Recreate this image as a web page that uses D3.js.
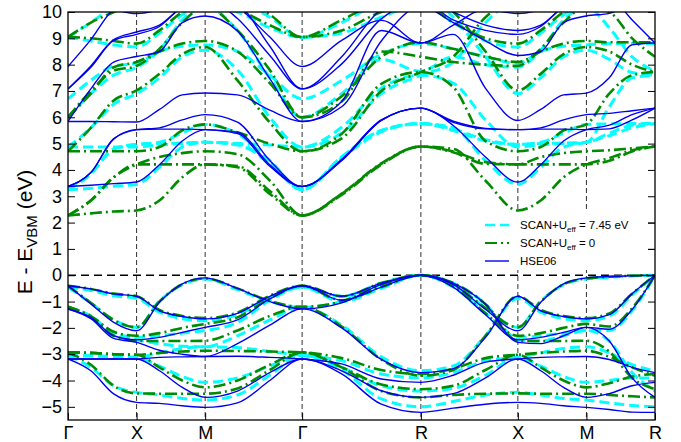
<!DOCTYPE html>
<html><head><meta charset="utf-8">
<script src="https://cdn.jsdelivr.net/npm/d3@7"></script>
<style>
body{margin:0;background:#fff}
svg{display:block}
text{font-family:"Liberation Sans",Arial,Helvetica,sans-serif}
</style>
</head><body>
<svg id="c" width="681" height="442"></svg>
<script>
// ---------- data ----------
const kLabels = ["Γ","X","M","Γ","R","X","M","R"];
const kNodes  = [0, 0.5, 1.0, 1.7071, 2.5731, 3.2802, 3.7802, 4.2802];
const kGrid   = [0,0.1667,0.3333,0.5, 0.6667,0.8333,1.0, 1.2357,1.4714,1.7071,
                 1.9958,2.2845,2.5731, 2.8088,3.0445,3.2802, 3.4469,3.6135,3.7802,
                 3.9469,4.1135,4.2802];
const yTicks  = [-5,-4,-3,-2,-1,0,1,2,3,4,5,6,7,8,9,10];
const legendLabels = ["SCAN+U_eff = 7.45 eV","SCAN+U_eff = 0","HSE06"];

// HSE06 bands (eV), values at kGrid
const hseCond = [
 [3.37,3.42,3.48,3.54, 4.2,5.1,5.53, 5.43,4.2,3.37, 4.36,5.88,6.35, 5.69,4.49,3.54, 4.2,5.1,5.53, 5.7,6.1,6.35],
 [3.37,3.9,5.18,5.53, 5.55,5.55,5.53, 5.38,4.14,3.37, 4.36,5.88,6.35, 5.81,5.56,5.53, 5.55,5.55,5.53, 5.56,5.9,6.35],
 [3.37,3.9,5.18,5.53, 5.6,5.9,6.1, 5.82,4.36,3.37, 4.4,5.9,6.35, 5.85,5.58,5.53, 5.6,5.9,6.1, 6.15,6.25,6.35],
 [5.84,5.84,5.83,5.82, 6.3,6.85,6.92, 6.85,6.27,5.84, 6.6,9.3,8.82, 9.15,7.1,5.88, 6.3,6.85,6.92, 7.5,8.75,8.82],
 [5.84,7.08,8.1,8.31, 8.5,9.6,9.85, 9.28,7.47,5.84, 6.4,8.9,10.2, 9.6,8.9,8.35, 8.5,9.6,9.85, 9.95,10.3,10.6],
 [7.08,7.9,8.92,9.15, 9.45,10.2,10.5, 9.75,8.35,7.08, 8.03,9.74,10.4, 9.7,9.3,9.15, 9.45,10.2,10.5, 10.8,10.8,10.8],
 [7.08,7.95,8.95,9.24, 9.5,10.2,10.6, 10.3,8.7,7.08, 8.3,10.1,10.6, 10.0,9.5,9.3, 9.5,10.2,10.6, 10.8,10.8,10.8],
 [7.93,8.95,10.1,10.4, 10.8,10.8,10.8, 10.2,9.05,7.93, 8.92,9.68,8.82, 9.5,10.1,9.94, 10.1,10.5,10.8, 10.6,9.7,8.82],
 [10.5,10.4,10.1,9.94, 10.1,10.5,10.8, 10.8,10.8,10.8, 10.8,10.8,10.8, 10.8,10.8,10.8, 10.8,10.8,10.8, 10.8,10.8,10.8]
];
const hseVal = [
 [-0.40,-0.52,-0.71,-0.80, -1.35,-1.57,-1.66, -1.45,-0.8,-0.40, -0.95,-0.45,0, -0.35,-1.3,-2.11, -1.03,-0.33,-0.10, -0.05,-0.02,0],
 [-0.40,-1.09,-1.79,-2.11, -1.03,-0.33,-0.10, -0.5,-1.0,-1.28, -1.05,-0.35,0, -0.45,-1.5,-2.45, -2.36,-2.17,-1.98, -2.05,-1.3,0],
 [-1.28,-1.6,-2.3,-2.45, -2.36,-2.17,-1.98, -1.7,-0.9,-0.40, -0.8,-0.3,0, -0.3,-1.1,-2.55, -2.6,-2.3,-1.98, -2.5,-3.9,-4.64],
 [-1.28,-1.65,-2.4,-2.55, -2.85,-3.0,-3.09, -2.6,-1.9,-1.28, -2.0,-3.2,-3.7, -3.55,-2.36,-0.80, -1.35,-1.57,-1.66, -1.5,-0.7,0],
 [-3.18,-3.18,-3.18,-3.18, -3.12,-3.1,-3.09, -3.08,-3.12,-3.18, -3.37,-3.94,-4.07, -3.8,-3.3,-3.18, -3.12,-3.1,-3.09, -3.2,-3.5,-3.7],
 [-3.18,-3.18,-3.18,-3.18, -3.63,-4.26,-4.64, -4.4,-3.7,-3.18, -3.63,-4.39,-4.64, -4.5,-3.9,-3.18, -3.63,-4.26,-4.64, -4.5,-4.2,-4.07],
 [-3.18,-3.63,-4.51,-4.83, -4.87,-4.96,-5.02, -4.85,-4.0,-3.18, -3.75,-4.9,-5.21, -5.05,-4.9,-4.83, -4.87,-4.96,-5.02, -5.1,-5.2,-5.21]
];

// SCAN+U_eff = 7.45 eV bands
const scanUCond = [
 [3.25,3.3,3.38,3.45, 4.1,4.87,5.05, 5.0,4.23,3.25, 4.49,5.5,5.76, 5.6,4.35,3.45, 4.1,4.87,5.05, 5.3,5.6,5.76],
 [3.25,3.85,4.8,4.97, 5.0,5.02,5.05, 4.95,4.3,3.25, 4.45,5.45,5.76, 5.5,5.1,4.97, 5.0,5.02,5.05, 5.4,5.7,5.76],
 [3.25,3.85,4.8,4.97, 5.05,5.4,5.73, 5.37,4.36,3.25, 4.5,5.5,5.76, 5.55,5.15,4.97, 5.05,5.4,5.73, 5.75,5.76,5.76],
 [4.87,4.87,4.87,4.87, 4.95,5.0,5.05, 5.0,4.95,4.87, 5.62,7.1,7.6, 7.3,5.9,4.87, 4.95,5.0,5.05, 6.4,7.5,7.6],
 [4.87,5.6,6.5,6.9, 7.5,8.3,8.55, 7.8,6.0,4.87, 5.4,6.9,7.6, 8.1,9.6,10.5, 10.6,10.8,10.8, 10.6,10.4,10.3],
 [6.0,6.9,7.6,7.9, 8.55,9.7,10.2, 9.3,7.5,6.0, 6.9,8.2,7.75, 8.3,8.0,7.9, 8.55,9.7,10.2, 9.4,8.3,7.75],
 [6.7,7.4,7.95,8.05, 8.5,8.7,8.75, 8.5,7.6,6.7, 7.4,8.4,8.8, 8.6,8.3,8.05, 8.5,8.7,8.75, 8.8,8.8,8.8],
 [9.04,8.9,8.75,8.67, 9.2,9.9,10.3, 10.0,9.4,9.04, 9.2,9.8,10.3, 9.6,8.9,8.67, 9.2,9.9,10.3, 10.3,10.3,10.3],
 [9.04,9.6,10.2,10.5, 10.6,10.8,10.8, 10.5,9.8,9.04, 9.6,10.4,10.8, 9.8,8.3,6.9, 7.5,8.3,8.55, 8.2,7.7,7.6]
];
const scanUVal = [
 [-0.45,-0.58,-0.78,-0.88, -1.4,-1.65,-1.73, -1.5,-0.85,-0.45, -1.0,-0.5,0, -0.35,-1.25,-1.98, -0.98,-0.36,-0.14, -0.08,-0.03,0],
 [-0.45,-1.05,-1.7,-1.98, -0.98,-0.36,-0.14, -0.55,-1.0,-1.22, -1.0,-0.35,0, -0.45,-1.45,-2.36, -2.3,-2.2,-2.1, -2.1,-1.35,0],
 [-1.22,-1.55,-2.2,-2.36, -2.3,-2.2,-2.1, -1.8,-0.95,-0.45, -0.8,-0.3,0, -0.3,-1.1,-2.45, -2.5,-2.3,-2.1, -2.5,-3.7,-4.4],
 [-1.22,-1.6,-2.3,-2.45, -2.6,-2.7,-2.72, -2.3,-1.7,-1.22, -1.9,-3.1,-3.63, -3.45,-2.3,-0.88, -1.4,-1.65,-1.73, -1.55,-0.75,0],
 [-3.05,-3.06,-3.1,-3.12, -2.95,-2.78,-2.72, -2.75,-2.9,-3.05, -3.25,-3.75,-3.9, -3.7,-3.25,-3.12, -2.95,-2.78,-2.72, -2.95,-3.4,-3.63],
 [-3.05,-3.06,-3.1,-3.12, -3.45,-3.85,-4.07, -3.9,-3.45,-3.05, -3.5,-4.2,-4.4, -4.3,-3.8,-3.12, -3.45,-3.85,-4.07, -4.0,-3.9,-3.9],
 [-3.05,-3.5,-4.2,-4.45, -4.55,-4.68,-4.74, -4.55,-3.8,-3.05, -3.6,-4.7,-5.0, -4.8,-4.55,-4.45, -4.55,-4.68,-4.74, -4.85,-4.95,-5.0]
];

// SCAN+U_eff = 0 bands
const scan0Cond = [
 [2.27,2.35,2.42,2.46, 2.84,3.72,4.21, 4.1,3.09,2.27, 3.09,4.23,4.89, 4.8,3.59,2.46, 2.84,3.72,4.21, 4.45,4.75,4.89],
 [2.27,2.84,3.72,4.21, 4.21,4.21,4.21, 4.15,3.2,2.27, 3.05,4.2,4.89, 4.67,4.23,4.21, 4.21,4.21,4.21, 4.35,4.7,4.89],
 [2.27,2.84,3.72,4.21, 4.49,4.64,4.71, 4.6,3.6,2.27, 3.1,4.25,4.89, 4.7,4.3,4.21, 4.49,4.64,4.71, 4.75,4.82,4.89],
 [4.71,4.71,4.71,4.71, 4.87,5.5,5.73, 5.43,4.99,4.71, 5.37,7.27,7.72, 7.15,5.1,4.71, 4.87,5.5,5.73, 6.9,7.6,7.72],
 [4.71,5.6,6.64,7.02, 7.65,8.4,8.67, 7.4,5.8,4.71, 5.2,7.0,7.72, 8.3,9.8,10.5, 10.6,10.8,10.8, 10.6,10.4,10.3],
 [6.0,7.0,7.77,7.95, 8.6,9.6,10.2, 9.3,7.8,6.0, 6.6,8.5,8.3, 8.1,8.0,7.95, 8.6,9.6,10.2, 10.0,9.0,8.3],
 [6.0,6.9,7.9,8.1, 8.5,8.8,8.9, 8.5,7.3,6.0, 6.8,8.3,8.85, 8.6,8.3,8.1, 8.5,8.8,8.9, 8.85,8.85,8.85],
 [9.05,9.0,8.9,8.8, 9.3,10.0,10.4, 10.1,9.5,9.05, 9.3,10.0,10.3, 9.6,9.0,8.8, 9.3,10.0,10.4, 10.5,10.4,10.3],
 [9.05,9.6,10.0,10.4, 10.6,10.8,10.8, 10.6,9.9,9.05, 9.7,10.4,10.6, 10.0,8.5,7.02, 7.65,8.4,8.67, 8.5,8.0,7.72]
];
const scan0Val = [
 [-0.40,-0.52,-0.7,-0.80, -1.32,-1.55,-1.63, -1.42,-0.78,-0.40, -0.95,-0.45,0, -0.35,-1.25,-1.98, -1.0,-0.34,-0.12, -0.06,-0.02,0],
 [-0.40,-1.05,-1.7,-1.98, -1.0,-0.34,-0.12, -0.5,-0.98,-1.20, -1.0,-0.35,0, -0.42,-1.45,-2.3, -2.2,-2.0,-1.85, -1.95,-1.25,0],
 [-1.20,-1.55,-2.15,-2.3, -2.2,-2.0,-1.85, -1.6,-0.88,-0.40, -0.8,-0.3,0, -0.3,-1.1,-2.49, -2.5,-2.5,-2.49, -2.9,-3.9,-4.33],
 [-1.20,-1.6,-2.3,-2.49, -2.5,-2.5,-2.49, -2.1,-1.55,-1.20, -1.95,-3.2,-3.82, -3.6,-2.3,-0.80, -1.32,-1.55,-1.63, -1.45,-0.7,0],
 [-2.93,-2.95,-3.0,-3.02, -2.95,-2.9,-2.87, -2.88,-2.9,-2.93, -3.15,-3.6,-3.75, -3.55,-3.15,-3.02, -2.95,-2.9,-2.87, -3.1,-3.5,-3.82],
 [-2.93,-2.95,-3.0,-3.02, -3.5,-4.0,-4.26, -4.0,-3.4,-2.93, -3.5,-4.15,-4.33, -4.2,-3.6,-3.02, -3.5,-4.0,-4.26, -4.1,-3.85,-3.75],
 [-2.93,-3.4,-4.2,-4.49, -4.5,-4.5,-4.5, -4.3,-3.6,-2.93, -3.5,-4.4,-4.64, -4.55,-4.5,-4.49, -4.5,-4.5,-4.5, -4.55,-4.6,-4.64]
];

// ---------- chart ----------
const W = 681, H = 442, L = 68, R = 655, T = 12, B = 420;
const x = d3.scaleLinear().domain([kNodes[0], kNodes[kNodes.length-1]]).range([L, R]);
const y = d3.scaleLinear().domain([-5.5, 10]).range([B, T]);
const svg = d3.select("#c");
svg.append("rect").attr("width", W).attr("height", H).attr("fill", "#fff");
svg.append("defs").append("clipPath").attr("id", "clip")
  .append("rect").attr("x", L).attr("y", T).attr("width", R - L).attr("height", B - T);

// high-symmetry vertical lines
svg.append("g").selectAll("line").data(kNodes.slice(1, -1)).join("line")
  .attr("x1", d => x(d)).attr("x2", d => x(d)).attr("y1", T).attr("y2", B)
  .attr("stroke", "#333").attr("stroke-width", 1).attr("stroke-dasharray", "5,3");
// VBM line
svg.append("line").attr("x1", L).attr("x2", R).attr("y1", y(0)).attr("y2", y(0))
  .attr("stroke", "#000").attr("stroke-width", 1.3).attr("stroke-dasharray", "8,5");

const line = d3.line().x((d, i) => x(kGrid[i])).y(d => y(d)).curve(d3.curveMonotoneX);
const series = [
  {bands: scanUCond.concat(scanUVal), color: "#00ffff", w: 3, dash: "10,5"},
  {bands: scan0Cond.concat(scan0Val), color: "#008b00", w: 2.6, dash: "12,4,2,4"},
  {bands: hseCond.concat(hseVal), color: "#0000f0", w: 1.4, dash: null}
];
const gB = svg.append("g").attr("clip-path", "url(#clip)");
series.forEach(s => {
  gB.append("g").selectAll("path").data(s.bands).join("path")
    .attr("d", line).attr("fill", "none")
    .attr("stroke", s.color).attr("stroke-width", s.w)
    .attr("stroke-dasharray", s.dash);
});

// axes
const yl = svg.append("g").attr("transform", `translate(${L},0)`)
  .call(d3.axisLeft(y).tickValues(yTicks).tickSize(-7).tickPadding(6).tickFormat(d3.format("d")));
const yr = svg.append("g").attr("transform", `translate(${R},0)`)
  .call(d3.axisRight(y).tickValues(yTicks).tickSize(-7).tickFormat(""));
const xb = svg.append("g").attr("transform", `translate(0,${B})`)
  .call(d3.axisBottom(x).tickValues(kNodes).tickSize(-7).tickPadding(6).tickFormat((d, i) => kLabels[i]));
[yl, yr, xb].forEach(g => {
  g.select(".domain").remove();
  g.selectAll(".tick line").attr("stroke", "#000").attr("stroke-width", 1);
  g.selectAll("text").attr("font-size", 18).attr("fill", "#000")
    .attr("font-family", '"Liberation Sans",Arial,sans-serif');
});

// legend (white box over the bands)
const leg = svg.append("g");
leg.append("rect").attr("x", 478).attr("y", 212).attr("width", 170).attr("height", 58).attr("fill", "#fff");
series.forEach((s, i) => {
  const ly = 225 + i * 18;
  leg.append("line").attr("x1", 485).attr("x2", 509).attr("y1", ly).attr("y2", ly)
    .attr("stroke", s.color).attr("stroke-width", s.w === 3 ? 2.5 : (s.dash ? 2.2 : 1.4))
    .attr("stroke-dasharray", s.dash);
  const t = leg.append("text").attr("x", 520).attr("y", ly + 4).attr("font-size", 11.5).attr("fill", "#000");
  const lab = legendLabels[i];
  if (lab.includes("_eff")) {
    const parts = lab.split("_eff");
    t.append("tspan").text(parts[0]);
    t.append("tspan").attr("font-size", 8).attr("dy", 3).text("eff");
    t.append("tspan").attr("dy", -3).text(parts[1]);
  } else {
    t.text(lab);
  }
});
// right-axis ticks drawn again over the legend box
svg.append("g").attr("transform", `translate(${R},0)`)
  .call(d3.axisRight(y).tickValues(yTicks.filter(v => v > -0.5 && v < 2.5)).tickSize(-7).tickFormat(""))
  .call(g => g.select(".domain").remove())
  .selectAll(".tick line").attr("stroke", "#000");

svg.append("rect").attr("x", L).attr("y", T).attr("width", R - L).attr("height", B - T)
  .attr("fill", "none").attr("stroke", "#000").attr("stroke-width", 1.3);

// y label
const yt = svg.append("text").attr("transform", "translate(32,232) rotate(-90)")
  .attr("text-anchor", "middle").attr("font-size", 21).attr("fill", "#000");
yt.append("tspan").text("E - E");
yt.append("tspan").attr("font-size", 15).attr("dy", 5).text("VBM");
yt.append("tspan").attr("dy", -5).text(" (eV)");
</script>
</body></html>
